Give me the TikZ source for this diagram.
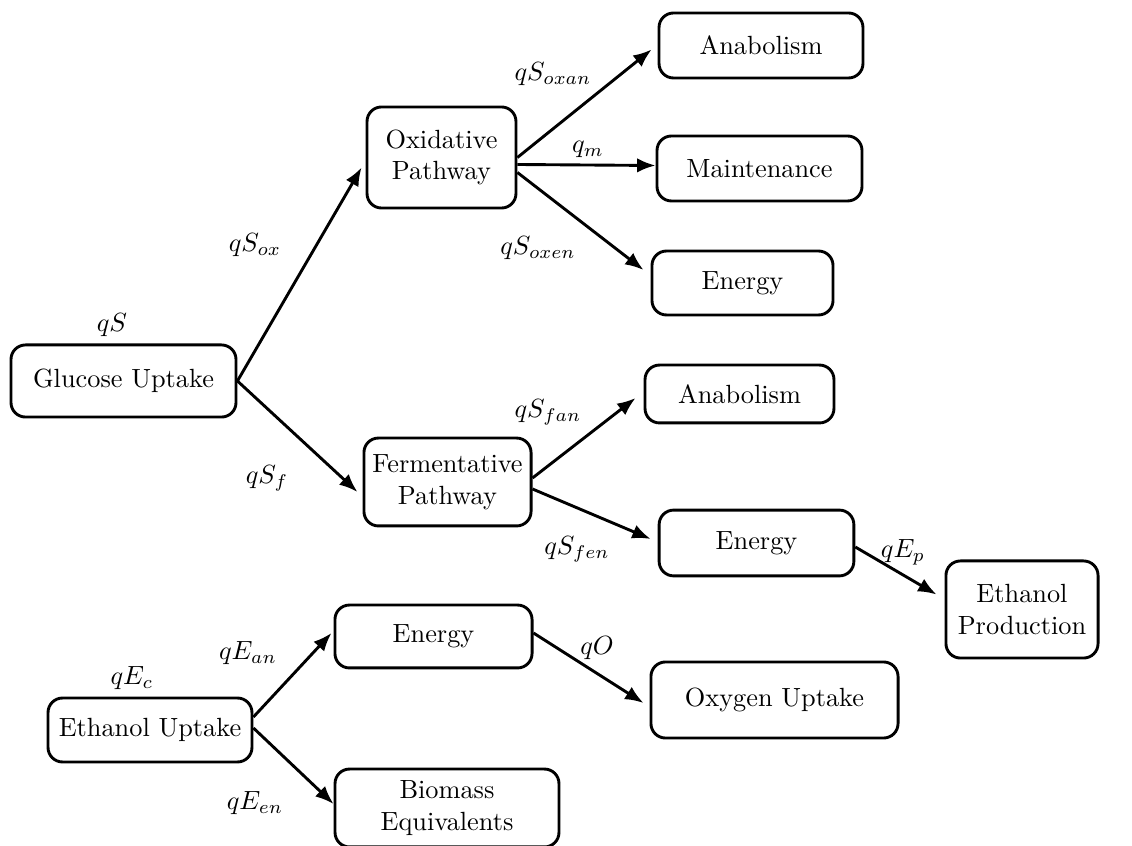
\documentclass[tikz,border=0pt]{standalone}
\usetikzlibrary{arrows.meta,calc}
\begin{document}
\begin{tikzpicture}[x=0.38pt,y=-0.38pt,
  box/.style={draw,line width=1.1pt,rounded corners=5.5pt,align=center,inner sep=1pt},
  flow/.style={line width=1.1pt,-{Latex[length=7pt,width=5.5pt]}},
  lab/.style={inner sep=0pt}]
\useasboundingbox (0,0) rectangle (1132,846);
% boxes
\node[box,minimum width=85.5pt,minimum height=27.4pt] (glu) at (123.5,381) {Glucose Uptake};
\node[box,minimum width=56.6pt,minimum height=38.4pt] (ox) at (441.5,157.5) {Oxidative\\Pathway};
\node[box,minimum width=77.5pt,minimum height=24.7pt] (an1) at (761,45.5) {Anabolism};
\node[box,minimum width=77.9pt,minimum height=24.7pt] (mt) at (759.5,168.5) {Maintenance};
\node[box,minimum width=68.8pt,minimum height=24.3pt] (en1) at (742.5,283) {Energy};
\node[box,minimum width=63.5pt,minimum height=33.4pt] (fer) at (447.5,482) {Fermentative\\Pathway};
\node[box,minimum width=71.8pt,minimum height=22pt] (an2) at (739.5,394) {Anabolism};
\node[box,minimum width=74pt,minimum height=25pt] (en2) at (756.5,543) {Energy};
\node[box,minimum width=57.8pt,minimum height=36.9pt] (ep) at (1022,609.5) {Ethanol\\Production};
\node[box,minimum width=77.5pt,minimum height=24.3pt] (eu) at (150,730) {Ethanol Uptake};
\node[box,minimum width=74.9pt,minimum height=23.9pt] (ee) at (433.5,636.5) {Energy};
\node[box,minimum width=93.9pt,minimum height=28.9pt] (oxu) at (774.5,700) {Oxygen Uptake};
\node[box,minimum width=85.1pt,minimum height=29.6pt,inner sep=0pt] (bm) at (447,808) {Biomass\\Equivalents};
% connectors
\draw[flow] (glu.east) -- ($(ox.west)+(-4,10)$);
\draw[flow] (glu.east) -- ($(fer.west)+(-5,10)$);
\draw[flow] (ox.east) -- ($(an1.west)+(-6,4)$);
\draw[flow] ($(ox.east)+(0,7)$) -- ($(mt.west)+(0,-3)$);
\draw[flow] ($(ox.east)+(0,15)$) -- ($(en1.west)+(-7,-13)$);
\draw[flow] ($(fer.east)+(0,-4)$) -- ($(an2.west)+(-8,4)$);
\draw[flow] ($(fer.east)+(0,7)$) -- ($(en2.west)+(-7,-4)$);
\draw[flow] ($(en2.east)+(0,4)$) -- ($(ep.west)+(-8,-15)$);
\draw[flow] ($(eu.east)+(0,-13)$) -- ($(ee.west)+(-2,-3.5)$);
\draw[flow] ($(eu.east)+(0,-2)$) -- ($(bm.west)+(0,-4)$);
\draw[flow] ($(ee.east)+(0,-3.5)$) -- ($(oxu.west)+(-6,3)$);
% labels
\node[lab] (lqs) at (112,325) {$qS$};
\node[lab] (lqsox) at (255,245) {$qS_{ox}$};
\node[lab] (lqsf) at (267,478) {$qS_f$};
\node[lab] (lqsoxan) at (553,74) {$qS_{oxan}$};
\node[lab] (lqm) at (588,149) {$q_m$};
\node[lab] (lqsoxen) at (538,248) {$qS_{oxen}$};
\node[lab] (lqsfan) at (548,412) {$qS_{fan}$};
\node[lab] (lqsfen) at (577,549) {$qS_{fen}$};
\node[lab] (lqep) at (903,552) {$qE_p$};
\node[lab] (lqo) at (597,648) {$qO$};
\node[lab] (lqean) at (248,653) {$qE_{an}$};
\node[lab] (lqec) at (132,678) {$qE_c$};
\node[lab] (lqeen) at (255,803) {$qE_{en}$};
\end{tikzpicture}
\end{document}
